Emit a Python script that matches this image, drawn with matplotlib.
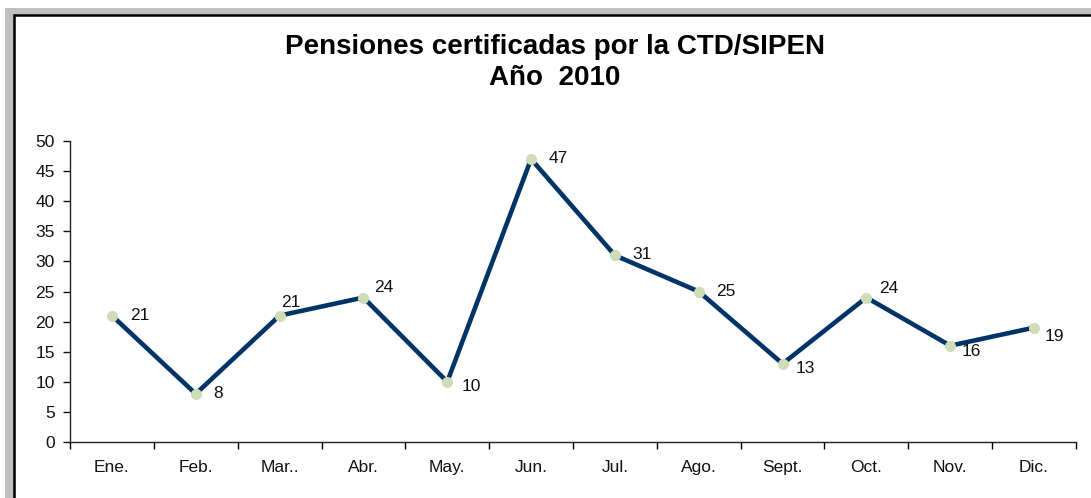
import matplotlib.pyplot as plt
from matplotlib.patches import Rectangle

months = ['Ene.', 'Feb.', 'Mar..', 'Abr.', 'May.', 'Jun.', 'Jul.', 'Ago.',
          'Sept.', 'Oct.', 'Nov.', 'Dic.']
pensions = [21, 8, 21, 24, 10, 47, 31, 25, 13, 24, 16, 19]

# label offsets in pixels (dx, dy) as placed in the original
label_offsets = [(28, 0), (22, 0), (11, 13), (20, 10), (24, -5), (27, 1),
                 (27, 1), (27, 0), (23, -5), (22, 9), (21, -6), (20, -9)]

W, H = 1091, 498
fig = plt.figure(figsize=(W / 100, H / 100), dpi=100)
plt.rcParams['font.family'] = ['Liberation Sans', 'DejaVu Sans']

# outer grey frame and white chart area with black edge
fig.patches.append(Rectangle((5 / W, -0.1), 2, 1 - 8 / H + 0.1,
                             transform=fig.transFigure, facecolor='#c0c0c0',
                             edgecolor='none', zorder=-2))
fig.patches.append(Rectangle((13.5 / W, -0.1), 2, 1 - 15 / H + 0.1,
                             transform=fig.transFigure, facecolor='white',
                             edgecolor='black', linewidth=1.8, zorder=-1))

ax = fig.add_axes([70 / W, 56 / H, (1076 - 70) / W, (442 - 141) / H])
ax.set_zorder(1)
ax.patch.set_alpha(0)

x = range(len(months))
ax.plot(x, pensions, color='#003366', linewidth=3.3, zorder=2)
ax.plot(x, pensions, linestyle='none', marker='o', markersize=7,
        markerfacecolor='#cfdcb8', markeredgecolor='#cfdcb8', zorder=3)

for i, v in enumerate(pensions):
    dx, dy = label_offsets[i]
    ax.annotate(str(v), (i, v), xytext=(dx, dy), textcoords='offset pixels',
                ha='center', va='center', fontsize=12.5, color='#111111')

ax.set_xlim(-0.5, len(months) - 0.5)
ax.set_ylim(0, 50)
ax.set_yticks(range(0, 51, 5))
ax.set_xticks(list(x))
ax.set_xticklabels(months)
ax.set_xticks([i - 0.5 for i in range(len(months) + 1)], minor=True)

ax.tick_params(axis='y', direction='out', length=5, width=1, pad=6,
               labelsize=12.5, colors='#111111')
ax.tick_params(axis='x', which='major', length=0, pad=13, labelsize=12.5,
               colors='#111111')
ax.tick_params(axis='x', which='minor', direction='out', length=5, width=1)

for s in ['top', 'right']:
    ax.spines[s].set_visible(False)
for s in ['left', 'bottom']:
    ax.spines[s].set_color('#222222')
    ax.spines[s].set_linewidth(1)

fig.text(555 / W, 1 - 47 / H, 'Pensiones certificadas por la CTD/SIPEN',
         ha='center', va='center', fontsize=20, fontweight='bold')
fig.text(555 / W, 1 - 78 / H, 'Año  2010',
         ha='center', va='center', fontsize=20, fontweight='bold')

fig.savefig('out.png', dpi=100)
